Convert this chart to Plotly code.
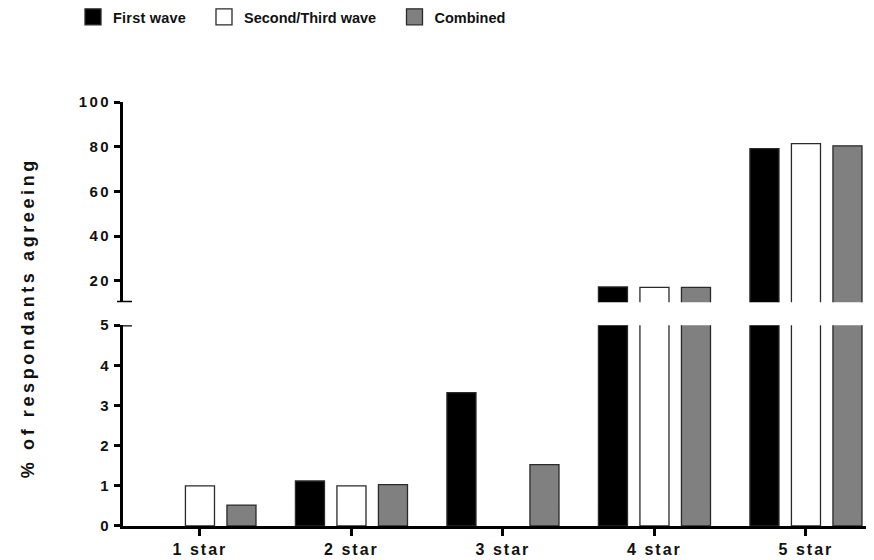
import plotly.graph_objects as go

categories = ["1 star", "2 star", "3 star", "4 star", "5 star"]
first_wave = [0, 1.12, 3.32, 17.2, 79.1]
second_third_wave = [1.0, 1.0, 0, 17.0, 81.4]
combined = [0.52, 1.03, 1.53, 17.0, 80.4]

series = [
    ("First wave", first_wave, "#000000", "legend"),
    ("Second/Third wave", second_third_wave, "#ffffff", "legend2"),
    ("Combined", combined, "#808080", "legend3"),
]

lower_tick_vals = [0, 1, 2, 3, 4, 5]
upper_tick_vals = [20, 40, 60, 80, 100]
lower_range = [0, 5]
upper_range = [10.4, 100]

FONT = "Liberation Sans, Arial, sans-serif"
OFF = 8  # default page body margin
W, H = 874 - OFF, 560 - OFF
ML, MR, MT = 123 - OFF, 0, 102 - OFF
MB = H - (525.7 - OFF)
PW = W - ML - MR
PH = H - MT - MB
OUTLINE = "#2a2a2a"


def fy(page_y):
    """page pixel y -> paper fraction"""
    return (H - MB - (page_y - OFF)) / PH


def fx(page_x):
    return ((page_x - OFF) - ML) / PW


fig = go.Figure()
for name, vals, col, lg in series:
    mk = dict(color=col, line=dict(color=OUTLINE,
                                   width=[0 if v == 0 else 1.3 for v in vals]))
    fig.add_trace(go.Bar(x=categories, y=vals, name=name, marker=mk,
                         xaxis="x", yaxis="y", showlegend=False))
    fig.add_trace(go.Bar(x=categories, y=vals, name=name, marker=mk,
                         xaxis="x2", yaxis="y2", showlegend=False))
    # legend entry (square swatch)
    fig.add_trace(go.Scatter(x=[None], y=[None], name=name, legend=lg,
                             mode="markers", xaxis="x", yaxis="y",
                             marker=dict(symbol="square", size=16, color=col,
                                         line=dict(color=OUTLINE, width=1.3))))

axis_common = dict(
    showline=True, linecolor="black", linewidth=2.6,
    ticks="outside", ticklen=6, tickwidth=2.6, tickcolor="black",
    showgrid=False, zeroline=False, ticklabelstandoff=0,
    tickfont=dict(family=FONT, size=15, color="#111111", weight="bold"),
)

xr = [-0.508, -0.508 + PW / 151.5]

fig.update_layout(
    width=W, height=H,
    margin=dict(l=ML, r=MR, t=MT, b=MB, autoexpand=False),
    paper_bgcolor="white", plot_bgcolor="white",
    barmode="group", bargap=0.178, bargroupgap=0.30,
    xaxis=dict(domain=[0, 1], anchor="y", range=xr, layer="above traces",
               showline=True, linecolor="black", linewidth=2.6,
               ticks="outside", ticklen=7, tickwidth=2.6, tickcolor="black",
               showgrid=False, zeroline=False,
               tickfont=dict(family=FONT, size=16, color="#111111", weight="bold")),
    xaxis2=dict(domain=[0, 1], anchor="y2", matches="x", visible=False, range=xr),
    yaxis=dict(domain=[0, fy(325)], anchor="x", range=lower_range,
               tickvals=lower_tick_vals, **axis_common),
    yaxis2=dict(domain=[fy(302), 1], anchor="x2", range=upper_range,
                tickvals=upper_tick_vals, **axis_common),
    showlegend=True,
)

leg_font = dict(family=FONT, size=14.5, color="#111111", weight="bold")
for key, sym_center in [("legend", 93), ("legend2", 224), ("legend3", 414.5)]:
    fig.update_layout({key: dict(
        orientation="h", x=fx(sym_center - 20), xanchor="left",
        y=fy(17), yanchor="middle", itemsizing="trace",
        font=leg_font, bgcolor="rgba(0,0,0,0)", borderwidth=0,
    )})

# axis-break caps
fig.add_shape(type="line", xref="paper", yref="y2",
              x0=-6 / PW, x1=9 / PW, y0=upper_range[0], y1=upper_range[0],
              line=dict(color="black", width=2.6))
fig.add_shape(type="line", xref="paper", yref="y",
              x0=0, x1=9 / PW, y0=lower_range[1], y1=lower_range[1],
              line=dict(color="black", width=2.6))

fig.add_annotation(
    text="% of respondants agreeing", xref="paper", yref="paper",
    x=fx(28), y=fy(318), textangle=-90, showarrow=False,
    font=dict(family=FONT, size=18, color="#111111", weight="bold"),
    xanchor="center", yanchor="middle",
)

post = """
var gd = document.getElementById('{plot_id}');
function sp(){
  gd.querySelectorAll('g.xtick text').forEach(function(t){t.style.letterSpacing='2px';});
  gd.querySelectorAll('g.ytick text, g.y2tick text').forEach(function(t){t.style.letterSpacing='2.5px';});
  gd.querySelectorAll('.annotation-text').forEach(function(t){t.style.letterSpacing='3.6px';});
  gd.querySelectorAll('.legendtext').forEach(function(t){t.style.letterSpacing='0.2px';});
}
sp();
gd.on('plotly_afterplot', sp);
"""

fig.write_html("out.html", post_script=post)
